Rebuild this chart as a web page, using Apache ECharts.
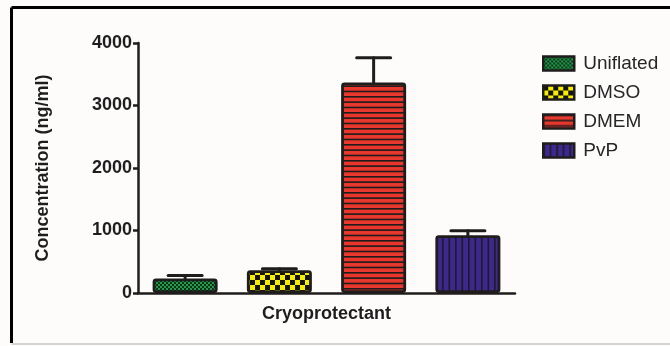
<!DOCTYPE html>
<html>
<head>
<meta charset="utf-8">
<script src="https://cdn.jsdelivr.net/npm/echarts@6/dist/echarts.min.js"></script>
<style>
  html, body { margin: 0; padding: 0; background: #fdfcfa; }
  #chart { width: 670px; height: 346px; }
</style>
</head>
<body>
<div id="chart"></div>
<script>
// Cryoprotectant groups and measured concentrations (ng/ml)
const categories = ['Uniflated', 'DMSO', 'DMEM', 'PvP'];
const means = [232, 365, 3370, 925];
const errorTops = [282, 388, 3765, 995];
const yTicks = [0, 1000, 2000, 3000, 4000];

// Fill patterns for each bar
function makeTile(w, h, draw) {
  const c = document.createElement('canvas');
  c.width = w; c.height = h;
  draw(c.getContext('2d'));
  return c;
}
const dark = '#1f1c1c';
const patterns = [
  makeTile(4, 4, g => {
    g.fillStyle = '#1a9e4c'; g.fillRect(0, 0, 4, 4);
    g.fillStyle = '#123018'; g.fillRect(0, 0, 2, 2); g.fillRect(2, 2, 2, 2);
  }),
  makeTile(10, 10, g => {
    g.fillStyle = '#f6f000'; g.fillRect(0, 0, 10, 10);
    g.fillStyle = '#161410'; g.fillRect(0, 0, 5, 5); g.fillRect(5, 5, 5, 5);
  }),
  makeTile(16, 16, g => {
    g.fillStyle = '#e8372c'; g.fillRect(0, 0, 16, 16);
    g.fillStyle = dark;
    [0, 5.33, 10.67].forEach(y => g.fillRect(0, y, 16, 1.6));
  }),
  makeTile(13, 13, g => {
    g.fillStyle = '#3d2891'; g.fillRect(0, 0, 13, 13);
    g.fillStyle = dark;
    [0, 6.5].forEach(x => g.fillRect(x, 0, 1.6, 13));
  })
];

const barSeries = categories.map((name, i) => ({
  name: name,
  type: 'bar',
  barWidth: 65,
  barGap: '-100%',
  data: categories.map((_, j) => (j === i ? means[i] : '-')),
  itemStyle: {
    color: { image: patterns[i], repeat: 'repeat' },
    borderColor: dark,
    borderWidth: 2.8,
    borderRadius: 2
  },
  emphasis: { disabled: true },
  z: 2
}));

const errorSeries = {
  type: 'custom',
  data: categories.map((_, i) => [i, means[i], errorTops[i]]),
  encode: { x: 0, y: [1, 2] },
  renderItem: function (params, api) {
    const base = api.coord([api.value(0), api.value(1)]);
    const top = api.coord([api.value(0), api.value(2)]);
    const half = 17;
    const style = { stroke: dark, lineWidth: 3, lineCap: 'round' };
    return {
      type: 'group',
      children: [
        { type: 'line', shape: { x1: base[0], y1: base[1], x2: top[0], y2: top[1] }, style: style },
        { type: 'line', shape: { x1: top[0] - half, y1: top[1], x2: top[0] + half, y2: top[1] }, style: style }
      ]
    };
  },
  silent: true,
  z: 1
};

const chart = echarts.init(document.getElementById('chart'), null, { renderer: 'canvas' });
chart.setOption({
  backgroundColor: '#fdfcfa',
  animation: false,
  textStyle: { fontFamily: 'Liberation Sans, Arial, sans-serif' },
  grid: { left: 138, right: 155, top: 43, bottom: 53 },
  legend: {
    orient: 'vertical',
    left: 537,
    top: 49,
    icon: 'rect',
    itemWidth: 31,
    itemHeight: 14,
    itemGap: 10,
    itemStyle: { borderColor: dark, borderWidth: 2.5 },
    textStyle: { fontSize: 19, color: '#262626', lineHeight: 19, padding: [0, 0, 0, 4] },
    data: categories
  },
  xAxis: {
    type: 'category',
    data: categories,
    name: 'Cryoprotectant',
    nameLocation: 'middle',
    nameGap: 12,
    nameTextStyle: { fontSize: 18, fontWeight: 'bold', color: '#1e1e1e' },
    axisLine: { lineStyle: { color: dark, width: 2.5 } },
    axisTick: { alignWithLabel: true, length: 8, lineStyle: { color: dark, width: 2.5 } },
    axisLabel: { show: false },
    splitLine: { show: false }
  },
  yAxis: {
    type: 'value',
    min: yTicks[0],
    max: yTicks[yTicks.length - 1],
    interval: 1000,
    name: 'Concentration (ng/ml)',
    nameLocation: 'middle',
    nameGap: 86,
    nameTextStyle: { fontSize: 18, fontWeight: 'bold', color: '#1e1e1e' },
    axisLine: { show: true, lineStyle: { color: dark, width: 2.5 } },
    axisTick: { show: true, length: 5, lineStyle: { color: dark, width: 2.5 } },
    axisLabel: { fontSize: 18, fontWeight: 'bold', color: '#1e1e1e', margin: 6, formatter: v => String(v) },
    splitLine: { show: false }
  },
  graphic: [
    { type: 'line', shape: { x1: 11.5, y1: 7.5, x2: 672, y2: 7.5 }, style: { stroke: '#000', lineWidth: 3 }, silent: true },
    { type: 'line', shape: { x1: 11.5, y1: 7.5, x2: 11.5, y2: 343 }, style: { stroke: '#000', lineWidth: 3 }, silent: true },
    { type: 'line', shape: { x1: 11.5, y1: 344, x2: 672, y2: 344 }, style: { stroke: '#c8c8c8', lineWidth: 1.5 }, silent: true }
  ],
  series: barSeries.concat([errorSeries])
});
</script>
</body>
</html>
